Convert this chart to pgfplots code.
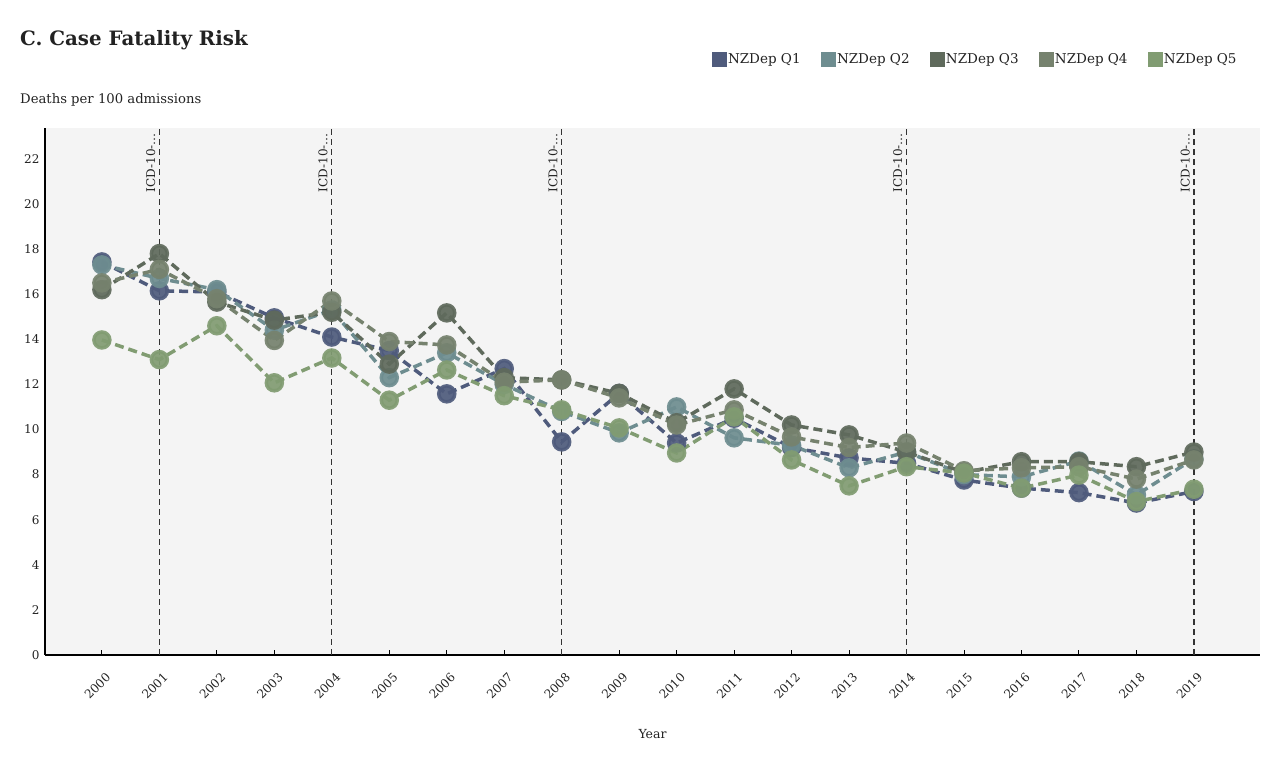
\documentclass[border=0pt]{standalone}
\usepackage{fontspec}
\setmainfont{DejaVu Serif}
\usepackage{pgfplots}
\pgfplotsset{compat=1.18}
\definecolor{q1}{HTML}{4F5B7C}
\definecolor{q2}{HTML}{6E8D90}
\definecolor{q3}{HTML}{5F6A5C}
\definecolor{q4}{HTML}{76826E}
\definecolor{q5}{HTML}{819C72}
\definecolor{bg}{HTML}{F4F4F4}
\definecolor{txt}{HTML}{222222}
\pgfplotsset{ser/.style={line width=3.5pt, dash pattern=on 9pt off 5pt, mark=*, mark size=8pt, mark options={solid, opacity=0.92}, forget plot}}
\begin{document}
\begin{tikzpicture}
\begin{axis}[
  scale only axis, width=1215pt, height=527pt,
  xmin=1999.01, xmax=2020.15, ymin=0, ymax=23.37,
  axis x line*=bottom, axis y line*=left,
  axis line style={-},
  x axis line style={line width=2pt, black},
  y axis line style={line width=1.4pt, black},
  axis background/.style={fill=bg},
  xtick={2000,...,2019}, ytick={0,2,...,22},
  tick align=inside,
  major tick length=5pt,
  x tick style={black, line width=0.8pt},
  y tick style={draw=none},
  /pgf/number format/1000 sep={},
  /pgf/number format/assume math mode=true,
  ticklabel style={font=\fontsize{12}{14}\selectfont, text=txt},
  yticklabel style={xshift=-2pt},
  xticklabel style={xshift=-4.5pt, yshift=-31pt, rotate=45, anchor=center},
  legend style={at={(0.985,1.131)}, anchor=east, draw=none, fill=none, font=\fontsize{13.5}{15}\selectfont, text=txt, legend columns=5, /tikz/every even column/.append style={column sep=18pt}, nodes={inner sep=2pt}},
  legend cell align=left,
]
\addlegendimage{legend image code/.code={\fill[q1] (0pt,-7pt) rectangle (14pt,7pt);}}
\addlegendentry{NZDep Q1}
\addlegendimage{legend image code/.code={\fill[q2] (0pt,-7pt) rectangle (14pt,7pt);}}
\addlegendentry{NZDep Q2}
\addlegendimage{legend image code/.code={\fill[q3] (0pt,-7pt) rectangle (14pt,7pt);}}
\addlegendentry{NZDep Q3}
\addlegendimage{legend image code/.code={\fill[q4] (0pt,-7pt) rectangle (14pt,7pt);}}
\addlegendentry{NZDep Q4}
\addlegendimage{legend image code/.code={\fill[q5] (0pt,-7pt) rectangle (14pt,7pt);}}
\addlegendentry{NZDep Q5}

\pgfplotsinvokeforeach{2001,2004,2008,2014,2019}{
  \draw[black!80, line width=1.2pt, dash pattern=on 6pt off 4pt] (axis cs:#1,0) -- (axis cs:#1,23.37);
  \node[rotate=90, anchor=south east, inner sep=0pt, font=\fontsize{12}{13}\selectfont, text=txt] at ([shift={(-4pt,-5pt)}]axis cs:#1,23.37) {ICD-10-\ldots};
}

\addplot[q1, ser] coordinates {
(2000,17.43) (2001,16.15) (2002,16.1) (2003,14.95) (2004,14.1) (2005,13.5) (2006,11.58) (2007,12.7) (2008,9.45) (2009,11.6)
(2010,9.4) (2011,10.5) (2012,9.2) (2013,8.74) (2014,8.5) (2015,7.76) (2016,7.4) (2017,7.2) (2018,6.74) (2019,7.25)};
\addplot[q2, ser] coordinates {
(2000,17.3) (2001,16.7) (2002,16.2) (2003,14.4) (2004,15.3) (2005,12.3) (2006,13.4) (2007,12.0) (2008,10.8) (2009,9.85)
(2010,11.0) (2011,9.63) (2012,9.3) (2013,8.3) (2014,9.0) (2015,8.0) (2016,7.9) (2017,8.6) (2018,7.1) (2019,8.7)};
\addplot[q3, ser] coordinates {
(2000,16.2) (2001,17.8) (2002,15.65) (2003,14.85) (2004,15.2) (2005,12.9) (2006,15.17) (2007,12.3) (2008,12.2) (2009,11.6)
(2010,10.3) (2011,11.8) (2012,10.2) (2013,9.76) (2014,9.0) (2015,8.1) (2016,8.57) (2017,8.57) (2018,8.35) (2019,9.0)};
\addplot[q4, ser] coordinates {
(2000,16.5) (2001,17.1) (2002,15.8) (2003,13.95) (2004,15.7) (2005,13.9) (2006,13.75) (2007,12.1) (2008,12.2) (2009,11.4)
(2010,10.2) (2011,10.87) (2012,9.67) (2013,9.2) (2014,9.4) (2015,8.17) (2016,8.3) (2017,8.35) (2018,7.8) (2019,8.65)};
\addplot[q5, ser] coordinates {
(2000,13.97) (2001,13.1) (2002,14.6) (2003,12.07) (2004,13.17) (2005,11.3) (2006,12.64) (2007,11.5) (2008,10.87) (2009,10.07)
(2010,8.96) (2011,10.56) (2012,8.65) (2013,7.5) (2014,8.35) (2015,8.07) (2016,7.4) (2017,7.98) (2018,6.8) (2019,7.35)};

\coordinate (SW) at (rel axis cs:0,0);
\coordinate (NE) at (rel axis cs:1,1);
\coordinate (NW) at (rel axis cs:0,1);
\coordinate (S) at (rel axis cs:0.5,0);
\end{axis}
\node[anchor=base west, inner sep=0pt, font=\fontsize{19.8}{24}\selectfont\bfseries, text=txt] at ([shift={(-25pt,82pt)}]NW) {C. Case Fatality Risk};
\node[anchor=base west, inner sep=0pt, font=\fontsize{13.2}{15}\selectfont, text=txt] at ([shift={(-25pt,24pt)}]NW) {Deaths per 100 admissions};
\node[anchor=base, inner sep=0pt, font=\fontsize{12.5}{15}\selectfont, text=txt] at ([shift={(0pt,-84pt)}]S) {Year};
\path[use as bounding box] ([shift={(-45pt,-126pt)}]SW) rectangle ([shift={(25pt,128pt)}]NE);
\end{tikzpicture}
\end{document}
